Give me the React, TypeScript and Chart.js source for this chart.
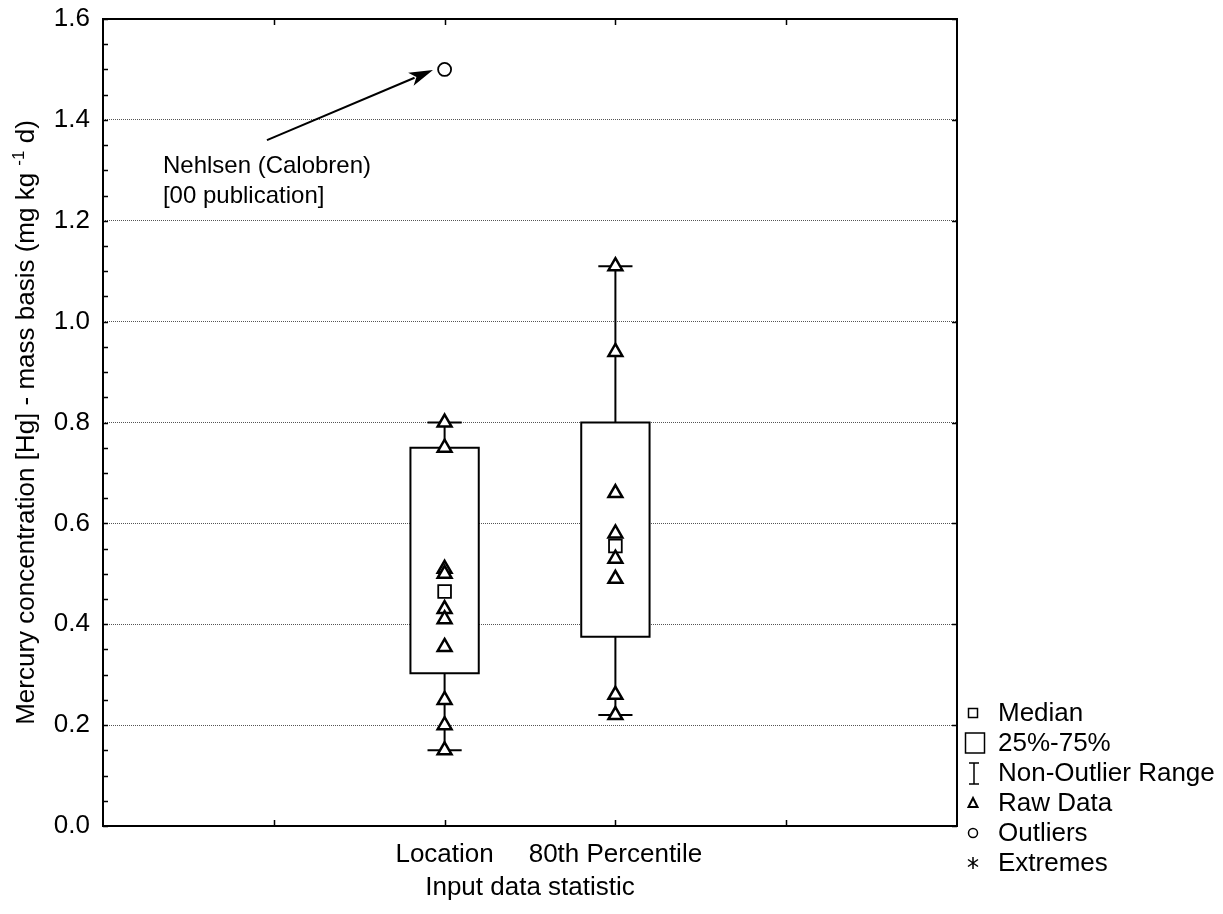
import React, { useEffect, useRef } from 'react';
import { Chart, registerables } from 'chart.js';

Chart.register(...registerables);

// ---------- data ----------
const categories = ['Location', '80th Percentile'];
const categoryPositions = [2, 3];
const xTickPositions = [1, 2, 3, 4];
const lowerQuartiles = [0.303, 0.375];
const upperQuartiles = [0.75, 0.8];
const medians = [0.465, 0.555];
const whiskerLows = [0.15, 0.22];
const whiskerHighs = [0.8, 1.11];
const rawLocation = [0.8, 0.75, 0.51, 0.5, 0.43, 0.41, 0.355, 0.25, 0.2, 0.15];
const rawPercentile = [1.11, 0.94, 0.66, 0.58, 0.53, 0.49, 0.26, 0.22];
const rawData = [rawLocation, rawPercentile];
const outlierCategories = [0];
const outlierValues = [1.5];
const yMin = 0;
const yMax = 1.6;
const yMinorStep = 0.05;
const yMajorStep = 0.2;
const legendLabels = ['Median', '25%-75%', 'Non-Outlier Range', 'Raw Data', 'Outliers', 'Extremes'];
const annotationLines = ['Nehlsen (Calobren)', '[00 publication]'];
const annotationTextAt = { x: 0.351, y: 1.2946 };
const arrowFrom = { x: 0.96, y: 1.36 };
const arrowTo = { x: 1.932, y: 1.499 };
const yTitleMain = 'Mercury concentration [Hg] - mass basis (mg kg ';
const yTitleSup = '-1';
const yTitleEnd = ' d)';
const xTitle = 'Input data statistic';

const FONT = "'Liberation Sans', Arial, Helvetica, sans-serif";
const BOX_HALF = 0.2;
const CAP_HALF = 0.1;

const isMajor = (v: number) => Math.abs(v / yMajorStep - Math.round(v / yMajorStep)) < 1e-6;

const decorPlugin = {
  id: 'decor',
  afterDatasetsDraw(chart: any) {
    const { ctx, chartArea: a, scales } = chart;
    const x = scales.x;
    const y = scales.y;
    ctx.save();
    ctx.strokeStyle = '#000';
    // frame
    ctx.lineWidth = 2;
    ctx.strokeRect(a.left, a.top, a.right - a.left, a.bottom - a.top);
    // inward ticks
    ctx.lineWidth = 1.5;
    ctx.beginPath();
    y.ticks.forEach((t: any) => {
      const py = Math.round(y.getPixelForValue(t.value)) + 0.5;
      ctx.moveTo(a.left, py);
      ctx.lineTo(a.left + 5, py);
      if (isMajor(t.value)) {
        ctx.moveTo(a.right - 5, py);
        ctx.lineTo(a.right, py);
      }
    });
    xTickPositions.forEach((v) => {
      const px = Math.round(x.getPixelForValue(v)) + 0.5;
      ctx.moveTo(px, a.bottom);
      ctx.lineTo(px, a.bottom - 6);
      ctx.moveTo(px, a.top);
      ctx.lineTo(px, a.top + 6);
    });
    ctx.stroke();

    // annotation arrow
    const x0 = x.getPixelForValue(arrowFrom.x);
    const y0 = y.getPixelForValue(arrowFrom.y);
    const x1 = x.getPixelForValue(arrowTo.x);
    const y1 = y.getPixelForValue(arrowTo.y);
    const ang = Math.atan2(y1 - y0, x1 - x0);
    const headLen = 24;
    const headHalf = 7;
    const bx = x1 - Math.cos(ang) * headLen;
    const by = y1 - Math.sin(ang) * headLen;
    ctx.lineWidth = 2;
    ctx.beginPath();
    ctx.moveTo(x0, y0);
    ctx.lineTo(bx + Math.cos(ang) * 4, by + Math.sin(ang) * 4);
    ctx.stroke();
    ctx.fillStyle = '#000';
    ctx.beginPath();
    ctx.moveTo(x1, y1);
    ctx.lineTo(bx - Math.sin(ang) * headHalf, by + Math.cos(ang) * headHalf);
    ctx.lineTo(bx + Math.cos(ang) * 6, by + Math.sin(ang) * 6);
    ctx.lineTo(bx + Math.sin(ang) * headHalf, by - Math.cos(ang) * headHalf);
    ctx.closePath();
    ctx.fill();

    // annotation text
    ctx.font = `24px ${FONT}`;
    ctx.textAlign = 'left';
    ctx.textBaseline = 'alphabetic';
    const tx = x.getPixelForValue(annotationTextAt.x);
    const ty = y.getPixelForValue(annotationTextAt.y);
    annotationLines.forEach((line, i) => ctx.fillText(line, tx, ty + i * 30));
    ctx.restore();
  },
  afterDraw(chart: any) {
    const { ctx, chartArea: a } = chart;
    ctx.save();
    ctx.fillStyle = '#000';
    ctx.strokeStyle = '#000';

    // y axis title with superscript
    const mainFont = `26px ${FONT}`;
    const supFont = `17px ${FONT}`;
    ctx.font = mainFont;
    const w1 = ctx.measureText(yTitleMain).width;
    const w3 = ctx.measureText(yTitleEnd).width;
    ctx.font = supFont;
    const w2 = ctx.measureText(yTitleSup).width;
    const total = w1 + w2 + w3;
    ctx.translate(34, (a.top + a.bottom) / 2);
    ctx.rotate(-Math.PI / 2);
    ctx.textAlign = 'left';
    ctx.textBaseline = 'alphabetic';
    let cx = -total / 2;
    ctx.font = mainFont;
    ctx.fillText(yTitleMain, cx, 0);
    cx += w1;
    ctx.font = supFont;
    ctx.fillText(yTitleSup, cx, -10);
    cx += w2;
    ctx.font = mainFont;
    ctx.fillText(yTitleEnd, cx, 0);
    ctx.setTransform(1, 0, 0, 1, 0, 0);

    // legend
    const sx = a.right + 16;
    const tx = a.right + 41;
    const rowY = (i: number) => a.bottom - 113 + i * 30;
    ctx.font = `26px ${FONT}`;
    ctx.textBaseline = 'middle';
    ctx.textAlign = 'left';
    legendLabels.forEach((label, i) => ctx.fillText(label, tx, rowY(i) + 1));
    ctx.lineWidth = 1.5;
    // median
    ctx.strokeRect(sx - 4.5, rowY(0) - 4.5, 9, 9);
    // box
    ctx.strokeRect(sx - 7.5, rowY(1) - 10, 19, 20);
    // non-outlier range
    ctx.beginPath();
    ctx.moveTo(sx - 4, rowY(2) - 10);
    ctx.lineTo(sx + 6, rowY(2) - 10);
    ctx.moveTo(sx + 1, rowY(2) - 10);
    ctx.lineTo(sx + 1, rowY(2) + 11);
    ctx.moveTo(sx - 4, rowY(2) + 11);
    ctx.lineTo(sx + 6, rowY(2) + 11);
    ctx.stroke();
    // raw data triangle
    ctx.lineWidth = 2;
    ctx.beginPath();
    ctx.moveTo(sx, rowY(3) - 5);
    ctx.lineTo(sx + 4.5, rowY(3) + 4);
    ctx.lineTo(sx - 4.5, rowY(3) + 4);
    ctx.closePath();
    ctx.stroke();
    // outliers circle
    ctx.lineWidth = 1.5;
    ctx.beginPath();
    ctx.arc(sx, rowY(4), 4.5, 0, Math.PI * 2);
    ctx.stroke();
    // extremes asterisk
    ctx.beginPath();
    const ey = rowY(5);
    ctx.moveTo(sx, ey - 6);
    ctx.lineTo(sx, ey + 6);
    ctx.moveTo(sx - 5, ey - 3.5);
    ctx.lineTo(sx + 5, ey + 3.5);
    ctx.moveTo(sx - 5, ey + 3.5);
    ctx.lineTo(sx + 5, ey - 3.5);
    ctx.stroke();
    ctx.restore();
  },
};

export default function App() {
  const canvasRef = useRef<HTMLCanvasElement | null>(null);

  useEffect(() => {
    document.body.style.margin = '0';
    document.body.style.overflow = 'hidden';
    const canvas = canvasRef.current;
    if (!canvas) return;

    const lineBase = {
      type: 'line' as const,
      showLine: true,
      pointRadius: 0,
      borderColor: '#000',
      borderWidth: 2,
      fill: false,
      tension: 0,
      borderJoinStyle: 'miter' as const,
      borderCapStyle: 'square' as const,
    };

    const datasets: any[] = [];

    categoryPositions.forEach((pos, i) => {
      const q1 = lowerQuartiles[i];
      const q3 = upperQuartiles[i];
      // white box fill
      datasets.push({
        ...lineBase,
        label: `fill-${i}`,
        data: [
          { x: pos - BOX_HALF, y: q3 },
          { x: pos + BOX_HALF, y: q3 },
        ],
        borderWidth: 0,
        fill: { value: q1 },
        backgroundColor: '#fff',
        order: 6,
      });
      // whiskers
      datasets.push({
        ...lineBase,
        label: `wh-up-${i}`,
        data: [
          { x: pos, y: q3 },
          { x: pos, y: whiskerHighs[i] },
        ],
        borderCapStyle: 'butt',
        order: 4,
      });
      datasets.push({
        ...lineBase,
        label: `wh-low-${i}`,
        data: [
          { x: pos, y: q1 },
          { x: pos, y: whiskerLows[i] },
        ],
        borderCapStyle: 'butt',
        order: 4,
      });
      datasets.push({
        ...lineBase,
        label: `cap-up-${i}`,
        data: [
          { x: pos - CAP_HALF, y: whiskerHighs[i] },
          { x: pos + CAP_HALF, y: whiskerHighs[i] },
        ],
        borderCapStyle: 'butt',
        order: 4,
      });
      datasets.push({
        ...lineBase,
        label: `cap-low-${i}`,
        data: [
          { x: pos - CAP_HALF, y: whiskerLows[i] },
          { x: pos + CAP_HALF, y: whiskerLows[i] },
        ],
        borderCapStyle: 'butt',
        order: 4,
      });
      // box outline
      datasets.push({
        ...lineBase,
        label: `box-${i}`,
        data: [
          { x: pos - BOX_HALF, y: q1 },
          { x: pos - BOX_HALF, y: q3 },
          { x: pos + BOX_HALF, y: q3 },
          { x: pos + BOX_HALF, y: q1 },
          { x: pos - BOX_HALF, y: q1 },
        ],
        order: 3,
      });
      // median
      datasets.push({
        type: 'scatter',
        label: `median-${i}`,
        data: [{ x: pos, y: medians[i] }],
        pointStyle: 'rect',
        pointRadius: 9,
        pointBorderWidth: 1.8,
        pointBorderColor: '#000',
        pointBackgroundColor: '#fff',
        order: 1,
      });
      // raw data
      datasets.push({
        type: 'scatter',
        label: `raw-${i}`,
        data: rawData[i].map((v) => ({ x: pos, y: v })),
        pointStyle: 'triangle',
        pointRadius: 8,
        pointBorderWidth: 2.5,
        pointBorderColor: '#000',
        pointBackgroundColor: '#fff',
        order: 0,
      });
    });

    datasets.push({
      type: 'scatter',
      label: 'outliers',
      data: outlierValues.map((v, i) => ({ x: categoryPositions[outlierCategories[i]], y: v })),
      pointStyle: 'circle',
      pointRadius: 6.5,
      pointBorderWidth: 1.8,
      pointBorderColor: '#000',
      pointBackgroundColor: '#fff',
      order: 0,
    });

    Chart.defaults.font.family = FONT;
    Chart.defaults.color = '#000';

    const chart = new Chart(canvas, {
      type: 'scatter',
      data: { datasets },
      plugins: [decorPlugin],
      options: {
        animation: false,
        responsive: false,
        devicePixelRatio: 1,
        layout: { padding: { top: 19, right: 266, bottom: 0, left: 0 } },
        plugins: {
          legend: { display: false },
          tooltip: { enabled: false },
        },
        elements: { line: { tension: 0 } },
        scales: {
          x: {
            type: 'linear',
            min: 0,
            max: 5,
            afterFit: (s: any) => {
              s.height = 88;
              s.paddingLeft = 0;
              s.paddingRight = 0;
            },
            ticks: {
              stepSize: 1,
              autoSkip: false,
              maxRotation: 0,
              minRotation: 0,
              padding: 13,
              font: { size: 26 },
              color: '#000',
              callback: (v: any) => {
                const i = categoryPositions.indexOf(Number(v));
                return i >= 0 ? categories[i] : '';
              },
            },
            grid: { display: false, drawTicks: false },
            border: { display: false },
            title: {
              display: true,
              text: xTitle,
              font: { size: 26 },
              color: '#000',
              padding: { top: 4, bottom: 11 },
            },
          },
          y: {
            type: 'linear',
            min: yMin,
            max: yMax,
            afterFit: (s: any) => {
              s.width = 103;
              s.paddingTop = 0;
              s.paddingBottom = 0;
            },
            ticks: {
              stepSize: yMinorStep,
              autoSkip: false,
              padding: 13,
              font: { size: 26 },
              color: '#000',
              callback: (v: any) => (isMajor(Number(v)) ? Number(v).toFixed(1) : ''),
            },
            grid: {
              drawTicks: false,
              lineWidth: 1,
              color: (c: any) => {
                const v = c.tick ? c.tick.value : NaN;
                if (isMajor(v) && v > yMin + 1e-6 && v < yMax - 1e-6) return '#555';
                return 'rgba(0,0,0,0)';
              },
            },
            border: { display: false, dash: [1, 1] },
          },
        },
      },
    } as any);

    return () => chart.destroy();
  }, []);

  return <canvas ref={canvasRef} width={1223} height={914} style={{ display: 'block' }} />;
}
